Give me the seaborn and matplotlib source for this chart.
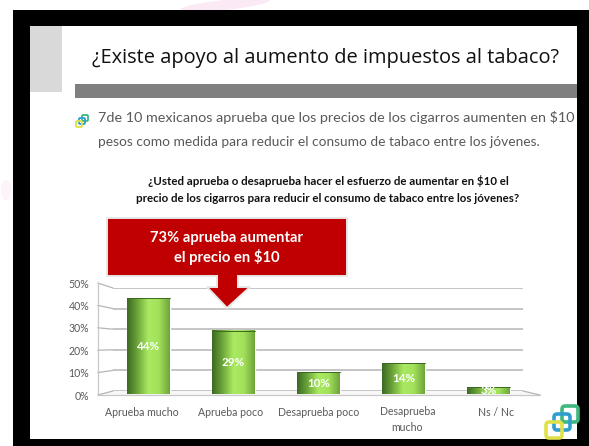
import numpy as np
import matplotlib
matplotlib.use('Agg')
import matplotlib.pyplot as plt
from matplotlib.colors import LinearSegmentedColormap
from matplotlib.patches import Rectangle, Polygon, FancyBboxPatch, Ellipse
import seaborn as sns

categorias = ['Aprueba mucho', 'Aprueba poco', 'Desaprueba poco', 'Desaprueba\nmucho', 'Ns / Nc']
valores = [44, 29, 10, 14, 3]
ticks_y = [0, 10, 20, 30, 40, 50]
titulo = '¿Existe apoyo al aumento de impuestos al tabaco?'
linea1 = '7de 10 mexicanos aprueba que los precios de los cigarros aumenten en $10'
linea2 = 'pesos como medida para reducir el consumo de tabaco entre los jóvenes.'
pregunta1 = '¿Usted aprueba o desaprueba hacer el esfuerzo de aumentar en $10 el'
pregunta2 = 'precio de los cigarros para reducir el consumo de tabaco entre los jóvenes?'
callout = '73% aprueba aumentar\nel precio en $10'

W, H = 589, 446
sns.set_theme(style='white')
plt.rcParams['font.family'] = ['Lato', 'DejaVu Sans']

fig = plt.figure(figsize=(W / 100, H / 100), dpi=100, facecolor='white')

def px_axes(x0, y0, x1, y1, zorder):
    # axes placed in picture pixels, y counted from the top
    a = fig.add_axes([x0 / W, 1 - y1 / H, (x1 - x0) / W, (y1 - y0) / H], zorder=zorder)
    a.patch.set_alpha(0)
    return a

# slide background, in pixels
bg = px_axes(0, 0, W, H, 0)
bg.set_xlim(0, W)
bg.set_ylim(H, 0)
bg.axis('off')
bg.add_patch(Ellipse((225, 5), 90, 10, angle=-6, color='#fbe9f6', lw=0))
bg.add_patch(Ellipse((6, 190), 10, 20, color='#fdf3fa', lw=0))
for r in [(13, 10, 576, 16), (13, 10, 17, 436), (13, 439, 576, 7), (577, 10, 12, 436)]:
    bg.add_patch(Rectangle(r[:2], r[2], r[3], color='black', lw=0))
bg.add_patch(Rectangle((30, 26), 32, 66, color='#d9d9d9', lw=0))
bg.add_patch(Rectangle((75, 84), 502, 14, color='#7f7f7f', lw=0))
bg.text(325, 58, titulo, ha='center', va='center', fontsize=14.4, color='#111111',
        family=['Open Sans', 'DejaVu Sans'])
bg.text(98, 118, linea1, ha='left', va='center', fontsize=10.4, color='#595959')
bg.text(98, 142, linea2, ha='left', va='center', fontsize=9.9, color='#595959')
bg.text(328, 181, pregunta1, ha='center', va='center', fontsize=8.3, fontweight='bold', color='#111111')
bg.text(328, 198, pregunta2, ha='center', va='center', fontsize=8.3, fontweight='bold', color='#111111')

# small bullet and corner logo
def logo(x, y, s, lw):
    for dx, dy, c in [(2 * s, 0, '#3fb87f'), (s, 1 * s, '#2f9fd0'), (0, 2 * s, '#dfe04a')]:
        bg.add_patch(FancyBboxPatch((x + dx, y + dy), 2 * s, 2 * s, boxstyle='round,pad=0,rounding_size=%f' % (s * 0.4),
                                    fc='none', ec=c, lw=lw))
logo(76, 115, 3, 1.3)
logo(546, 406, 8, 2.6)

# perspective frame of the chart
wall = px_axes(113, 288, 523, 391, 1)
wall.set_xlim(0, 1)
wall.set_ylim(0, 50)
wall.set_yticks(ticks_y)
wall.set_xticks([])
wall.grid(axis='y', color='#b5b5b5', lw=1.1)
wall.tick_params(left=False, labelleft=False)
sns.despine(ax=wall, left=True, bottom=True)

front = px_axes(97.7, 283, 540, 395, 1)
front.set_xlim(0, 5)
front.set_ylim(0, 50)
front.set_yticks(ticks_y)
front.set_yticklabels(['%d%%' % t for t in ticks_y], fontsize=7.6, color='#595959')
front.set_xticks(range(6))
front.set_xticklabels([])
front.tick_params(axis='both', length=2.5, width=0.7, color='#a6a6a6', pad=2)
front.tick_params(axis='y', length=5, direction='out', pad=1)
sns.despine(ax=front)
for s in ['left', 'bottom']:
    front.spines[s].set_color('#c8c8c8')
    front.spines[s].set_linewidth(0.9)
for t in ticks_y:
    yf = 395 - t / 50 * 112
    yb = 391 - t / 50 * 103
    bg.plot([97.7, 113], [yf, yb], color='#b5b5b5', lw=0.9, zorder=2)
bg.plot([523, 540], [391, 395], color='#b5b5b5', lw=0.9, zorder=2)
bg.fill([97.7, 113, 523, 540], [395, 391, 391, 395], color='#f7f7f7', lw=0, zorder=1)
for i, c in enumerate(categorias):
    x = 97.7 + 88.5 * (i + 0.5)
    y = 419.5 if '\n' in c else 413
    bg.text(x, y, c, ha='center', va='center', fontsize=7.6, color='#595959', linespacing=1.45)

# bars
ax = px_axes(106, 285, 531, 394, 3)
sns.barplot(x=categorias, y=valores, ax=ax, width=0.5, color='#70ad47', saturation=1)
ax.axis('off')
verde = LinearSegmentedColormap.from_list('verde', ['#3d6a22', '#6fa83c', '#aaea62', '#a2e05a', '#6ea53a'])
grad = np.linspace(0, 1, 64).reshape(1, -1)
for p in ax.patches:
    x0, w, h = p.get_x(), p.get_width(), p.get_height()
    ax.imshow(grad, cmap=verde, extent=(x0, x0 + w, 0, h), aspect='auto', zorder=3)
    ax.plot([x0, x0 + w], [h, h], color='#3d6a22', lw=0.7, zorder=4)
ax.set_xlim(-0.5, 4.5)
ax.set_ylim(0, 50)
ax.bar_label(ax.containers[0], labels=['%d%%' % v for v in valores], label_type='center',
             color='white', fontweight='bold', fontsize=8.4, zorder=5)

# red callout on top of everything
top = px_axes(0, 0, W, H, 5)
top.set_xlim(0, W)
top.set_ylim(H, 0)
top.axis('off')
forma = [(107, 218), (347, 218), (347, 276), (238, 276), (238, 287), (250, 287),
         (227, 308), (207, 287), (217, 287), (217, 276), (107, 276)]
top.add_patch(Polygon(forma, closed=True, fc='#c00000', ec='#e8e8e8', lw=1.4))
top.text(227, 248, callout, ha='center', va='center', color='white', fontweight='bold',
         fontsize=10.6, linespacing=1.25)

fig.savefig('out.png', dpi=100)
